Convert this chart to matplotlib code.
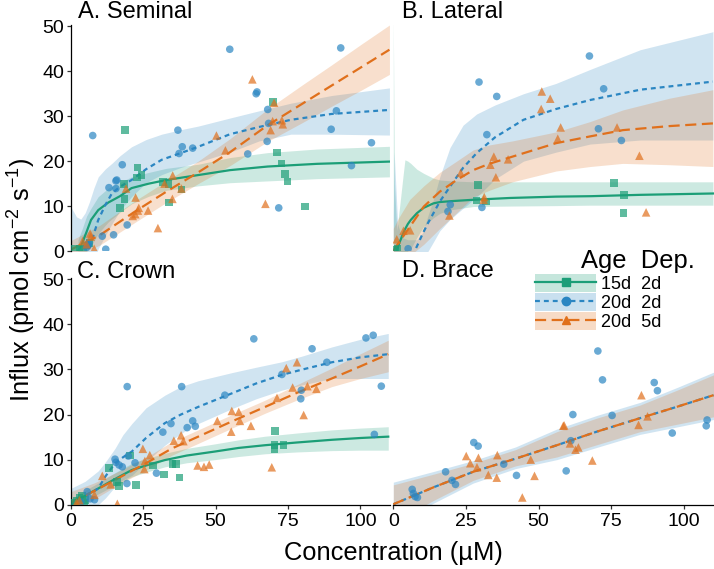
import matplotlib
matplotlib.use("Agg")
import matplotlib.pyplot as plt
from matplotlib.lines import Line2D
from matplotlib.patches import Patch
from matplotlib.legend_handler import HandlerTuple

plt.rcParams['font.family'] = ['Liberation Sans', 'DejaVu Sans']
plt.rcParams['mathtext.fontset'] = 'custom'
plt.rcParams['mathtext.rm'] = 'Liberation Sans'
plt.rcParams['mathtext.it'] = 'Liberation Sans:italic'

# groups: age / depletion
group_labels = ['15d  2d', '20d  2d', '20d  5d']
colors = ['#1b9e77', '#2b86c2', '#e0701c']
markers = ['s', 'o', '^']
styles = ['-', (0, (2.2, 1.8)), (0, (5, 2.5))]
panel_titles = ['A. Seminal', 'B. Lateral', 'C. Crown', 'D. Brace']
y_ticks = [0, 10, 20, 30, 40, 50]
x_ticks = [0, 25, 50, 75, 100]

# ---------------- A. Seminal: measured points ----------------
sem_15d2_x = [18.7, 23.0, 24.5, 22.8, 18.4, 18.6, 17.1, 31.8, 33.8, 38.2, 34.0, 69.9, 71.2, 72.8,
              74.0, 74.8, 80.9, 1.5, 3.0, 4.3, 5.5, 6.5]
sem_15d2_y = [26.9, 18.6, 16.9, 16.4, 14.9, 11.6, 9.6, 15.3, 14.9, 13.7, 10.8, 33.1, 21.9, 19.5,
              17.2, 15.5, 9.9, 0.5, 0.5, 0.6, 1.2, 1.8]
sem_20d2_x = [7.6, 54.9, 93.2, 64.3, 64.0, 68.0, 68.3, 91.7, 89.9, 37.0, 38.5, 37.4, 42.1, 61.1,
              67.8, 103.8, 96.9, 71.8, 17.8, 15.6, 15.9, 13.2, 15.6, 19.5, 14.8, 10.9, 12.1,
              6.0, 6.3, 5.5]
sem_20d2_y = [25.7, 44.9, 45.2, 35.4, 35.0, 31.5, 28.4, 31.2, 27.1, 26.9, 23.2, 21.7, 22.9, 21.6,
              24.4, 24.1, 19.0, 9.6, 19.2, 15.6, 15.8, 14.1, 13.9, 5.8, 3.6, 3.3, 0.4,
              1.3, 1.8, 0.8]
sem_20d5_x = [62.7, 70.2, 69.7, 72.9, 73.2, 69.0, 50.3, 53.4, 35.2, 32.4, 38.2, 35.1, 19.1, 22.4,
              23.5, 23.2, 26.7, 22.3, 21.4, 30.1, 67.2, 6.7, 6.9, 8.1, 4.1, 5.5]
sem_20d5_y = [38.2, 33.0, 28.9, 29.1, 28.2, 26.9, 25.7, 22.4, 16.8, 15.0, 13.9, 11.6, 13.9, 11.9,
              9.6, 9.0, 9.0, 8.2, 7.8, 5.1, 10.5, 3.9, 3.2, 0.5, 2.2, 1.5]

# ---------------- B. Lateral: measured points ----------------
lat_15d2_x = [29.2, 28.6, 31.8, 75.9, 79.4, 79.2, 1.4, 0.5]
lat_15d2_y = [14.7, 11.2, 11.0, 15.1, 12.5, 8.5, 0.5, 0.3]
lat_20d2_x = [67.5, 29.5, 35.6, 72.4, 32.2, 70.6, 78.5, 19.6, 18.8, 30.5, 5.1]
lat_20d2_y = [43.4, 37.6, 34.4, 36.1, 25.9, 27.2, 24.6, 10.3, 8.8, 9.7, 0.5]
lat_20d5_x = [51.1, 54.0, 50.9, 57.6, 77.0, 56.6, 34.6, 39.5, 33.4, 23.2, 35.3, 84.7, 87.0, 31.3,
              31.1, 19.3, 5.8, 3.5, 1.2]
lat_20d5_y = [35.5, 33.9, 31.6, 27.5, 27.5, 25.0, 21.0, 20.4, 19.2, 17.4, 16.4, 21.2, 8.6, 12.0,
              11.4, 7.9, 4.6, 4.5, 2.6]

# ---------------- C. Crown: measured points ----------------
cro_15d2_x = [70.5, 70.3, 70.3, 73.4, 36.3, 35.1, 32.2, 37.6, 22.5, 13.3, 20.5, 28.4, 15.9, 16.7,
              3.0, 4.0, 2.0, 5.0, 1.5, 4.5]
cro_15d2_y = [16.4, 13.2, 12.3, 13.3, 9.0, 9.0, 6.7, 6.0, 4.4, 8.1, 10.9, 8.7, 5.1, 4.2,
              1.5, 2.0, 0.8, 1.0, 0.4, 0.5]
cro_20d2_x = [63.2, 101.9, 104.4, 83.3, 88.4, 72.9, 107.2, 79.6, 79.4, 19.5, 38.3, 53.2, 104.8,
              34.6, 42.1, 43.0, 40.2, 31.8, 15.3, 15.6, 16.7, 17.8, 19.9, 22.2, 29.6, 19.4,
              5.7, 6.7, 8.2, 3.5]
cro_20d2_y = [36.8, 37.0, 37.6, 34.6, 31.6, 28.9, 26.3, 25.4, 23.5, 26.2, 26.2, 24.3, 15.6,
              18.0, 18.6, 17.4, 17.1, 16.1, 10.1, 9.4, 8.8, 8.4, 10.8, 9.3, 7.0, 4.7,
              2.9, 1.3, 1.1, 0.6]
cro_20d5_x = [78.1, 74.4, 76.6, 81.7, 84.8, 80.4, 71.2, 55.6, 58.0, 58.4, 50.6, 55.4, 62.2, 38.1,
              38.9, 35.6, 43.8, 46.0, 47.8, 69.4, 24.9, 27.3, 25.6, 25.4, 10.9, 13.8, 16.1,
              8.2, 3.0, 2.0]
cro_20d5_y = [31.6, 30.3, 26.0, 26.3, 25.7, 19.9, 23.7, 20.8, 20.6, 18.6, 18.6, 16.2, 17.5, 15.4,
              14.1, 14.2, 8.7, 8.4, 8.9, 8.3, 12.4, 11.0, 9.7, 7.9, 6.4, 4.5, 0.2,
              2.2, 1.0, 0.5]

# ---------------- D. Brace: measured points ----------------
bra_20d2_x = [70.4, 72.0, 89.8, 90.9, 61.8, 75.3, 108.0, 107.7, 96.0, 27.7, 29.2, 61.1, 38.0,
              18.0, 20.2, 21.4, 42.4, 59.5, 6.5, 6.9, 7.5, 8.3]
bra_20d2_y = [34.1, 27.7, 27.1, 25.3, 20.0, 19.8, 18.8, 17.5, 15.9, 13.8, 13.0, 14.2, 9.0,
              7.3, 5.4, 4.5, 6.5, 7.5, 3.4, 2.5, 1.8, 1.6]
bra_20d5_x = [85.4, 87.5, 84.4, 58.5, 58.8, 60.8, 62.7, 63.7, 68.5, 25.1, 29.3, 26.5, 28.8, 35.8,
              47.3, 32.7, 35.6, 48.6, 44.4]
bra_20d5_y = [24.3, 19.6, 17.7, 17.5, 17.6, 13.6, 12.2, 12.7, 9.8, 10.8, 10.4, 9.2, 8.3, 11.0,
              10.0, 6.6, 6.0, 6.4, 1.6]

# ---------------- fitted curves and 95% bands ----------------
sem_15d2_fx = [2.5, 4, 5.5, 7, 9.5, 13, 17, 21, 27, 33, 44, 55, 68, 85, 110]
sem_15d2_fy = [0, 1.8, 4.3, 6.9, 9.1, 10.8, 12.2, 14.0, 15.0, 15.8, 16.9, 18.0, 18.8, 19.4, 19.9]
sem_15d2_lo = [0, 0, 0, 1, 3.9, 6.5, 8.6, 10.5, 12.2, 13.5, 14.5, 15.2, 15.6, 16.1, 16.5]
sem_15d2_hi = [2.5, 5, 7.8, 9.5, 12.1, 14.0, 15.3, 16.5, 17.5, 18.4, 19.3, 20.8, 21.9, 22.7, 23.3]

sem_20d2_fx = [0, 2, 3.5, 5, 6.5, 8, 9.5, 12, 14.2, 17, 21, 26, 31.4, 38, 44, 55, 65, 76, 90, 110]
sem_20d2_fy = [-6, -4, -2.5, -1, 0.4, 3.8, 6.9, 10.3, 12.8, 14.3, 15.8, 18.2, 20.3, 21.8, 23.2,
               26.0, 27.6, 29.2, 30.5, 31.4]
sem_20d2_lo = [-5, -5, -5, -5, -4, -2, 0.5, 3.5, 6, 9, 12.1, 15.2, 17, 18.6, 19.8, 22.0, 24.5,
               26.0, 26.0, 25.8]
sem_20d2_hi = [9.9, 7.6, 7.1, 8.5, 11, 14, 16.5, 18.3, 19.5, 21.2, 23.2, 24.8, 26.0, 27.0, 27.8,
               29.6, 31.2, 32.9, 34.6, 36.3]

sem_20d5_fx = [0, 10, 22, 33, 44, 55, 68, 80, 90, 100, 110]
sem_20d5_fy = [0.3, 3.5, 8.7, 13.2, 17.5, 22.0, 28.0, 32.8, 36.8, 40.8, 44.8]
sem_20d5_lo = [-1.7, 1.3, 6.3, 10.8, 15.0, 19.0, 24.4, 28.6, 32.2, 35.7, 39.3]
sem_20d5_hi = [2.3, 5.7, 11.1, 15.6, 20.0, 25.0, 31.6, 37.0, 41.4, 45.9, 50.3]

lat_15d2_fx = [0, 0.4, 1.2, 2.2, 3.4, 4.0, 5, 6, 8.1, 10.4, 13.8, 16.1, 20, 27.5, 40, 56, 68, 85, 110]
lat_15d2_fy = [-3, -1.5, 0.2, 2, 3.9, 4.8, 6, 6.9, 8.4, 9.6, 10.6, 10.9, 11.1, 11.4, 11.8, 12.1,
               12.2, 12.5, 12.8]
lat_15d2_lo = [-3, -3, -2, -1, -1, -0.5, 0, 0.5, 3, 5.4, 7.4, 8.4, 9.2, 9.9, 10.0, 10.1, 10.2,
               10.2, 10.2]
lat_15d2_hi = [52, 15, 4.5, 10, 17, 20.3, 20, 19.5, 18.2, 17.3, 16.2, 15.8, 15.6, 15.4, 15.4,
               15.4, 15.4, 15.4, 15.4]

lat_20d2_fx = [0, 0.3, 1.5, 3, 5, 7, 8.1, 10, 12, 13.8, 16, 19.5, 24, 28.7, 35, 44.8, 56, 67.7, 85, 110]
lat_20d2_fy = [-10, -9, -7, -5, -3, -0.5, 1.0, 3.7, 6.3, 8.4, 11, 14.3, 18.5, 21.8, 25.3, 29.2,
               31.6, 33.6, 35.9, 37.7]
lat_20d2_lo = [-10, -10, -10, -10, -8, -5, -4, -2, 0, 2, 4.5, 7, 9.5, 12, 16, 20, 22, 23.8,
               24.7, 24.7]
lat_20d2_hi = [8, 22, 6, 3, 2.5, 2.5, 2.5, 4, 8, 11.4, 16.5, 23, 28, 30.5, 32.5, 35, 37.3, 40.4,
               44.8, 48.8]

lat_20d5_fx = [0, 1.5, 5.7, 10.5, 16, 21.8, 27.5, 33, 41, 56, 67.7, 79, 95, 110]
lat_20d5_fy = [0, 1.5, 5.4, 9.9, 13.2, 15.8, 18.0, 19.4, 21.0, 24.0, 25.5, 26.9, 27.8, 28.4]
lat_20d5_lo = [-3, -3, -1, 1.5, 5, 8.5, 12.0, 13.5, 15.4, 17.8, 18.8, 19.5, 19.2, 18.8]
lat_20d5_hi = [5, 7, 11.5, 14.5, 17.5, 20, 22.5, 23.6, 24.5, 26.5, 28.8, 31.4, 34, 35.9]

cro_15d2_fx = [0, 5, 9.5, 15, 21.1, 27, 32.5, 40, 49.8, 58, 67.1, 78, 90.1, 100, 109.6]
cro_15d2_fy = [0.2, 2.0, 3.6, 5.6, 7.7, 8.9, 9.9, 10.9, 11.8, 12.6, 13.2, 13.8, 14.4, 14.8, 15.1]
cro_15d2_lo = [0, 0.8, 2.4, 4.2, 6.2, 7.4, 8.4, 9.3, 10.0, 10.7, 11.3, 11.7, 12.0, 12.1, 12.1]
cro_15d2_hi = [1.3, 3.2, 4.8, 7.0, 9.2, 10.4, 11.4, 12.5, 13.5, 14.4, 15.2, 15.9, 16.6, 17.0, 17.3]

cro_20d2_fx = [0, 5, 9.5, 12, 15.3, 18, 21.1, 26, 32.5, 38, 44, 55.6, 64, 72.8, 80, 90.1, 100, 109.6]
cro_20d2_fy = [0, 1.8, 3.6, 6.3, 9.2, 10.5, 11.8, 14.8, 18.1, 20.0, 21.7, 24.7, 26.9, 28.8, 30.0,
               31.6, 32.7, 33.4]
cro_20d2_lo = [-2, -1, 0, 1.5, 4, 5.5, 6.5, 9.5, 13.2, 15.8, 18.0, 21.3, 23.5, 25.4, 26.6, 28.0,
               28.0, 28.0]
cro_20d2_hi = [3.6, 5.2, 7.5, 9.5, 12.5, 15.5, 18.0, 21.5, 24.3, 26.2, 27.5, 29.3, 30.5, 31.7,
               33.0, 35.0, 36.7, 38.0]

cro_20d5_fx = [0, 8, 15.3, 26.8, 35, 44, 55, 67.1, 78, 90.1, 100, 109.6]
cro_20d5_fy = [0.5, 3.0, 5.5, 9.5, 12.5, 15.1, 18.3, 21.7, 24.8, 28.0, 30.7, 33.4]
cro_20d5_lo = [-1, 1.2, 4.0, 8.0, 11.0, 13.6, 16.8, 20.3, 23.2, 26.2, 28.0, 29.5]
cro_20d5_hi = [2.9, 4.8, 7.0, 10.8, 14.0, 16.6, 19.8, 23.2, 26.6, 30.3, 33.5, 36.5]

bra_20d2_fx = [0, 14, 27.5, 42, 56.3, 70, 84.9, 98, 110.2]
bra_20d2_fy = [0.1, 3.9, 7.3, 10.2, 13.2, 16.2, 19.2, 21.8, 24.3]
bra_20d2_lo = [-4.6, 0.4, 4.8, 8.0, 10.0, 12.7, 15.6, 17.3, 18.9]
bra_20d2_hi = [5.0, 7.4, 9.8, 12.8, 16.8, 19.8, 22.7, 26.1, 29.4]

bra_20d5_fx = [0, 14, 27.5, 42, 56.3, 70, 84.9, 98, 110.2]
bra_20d5_fy = [0.1, 3.9, 7.3, 10.2, 13.2, 16.2, 19.2, 21.8, 24.3]
bra_20d5_lo = [-4, 1.0, 5.4, 8.6, 10.6, 13.3, 16.2, 17.9, 19.5]
bra_20d5_hi = [4.4, 6.8, 9.2, 12.2, 16.2, 19.2, 22.1, 25.5, 28.8]

panels = [
    [(sem_15d2_x, sem_15d2_y, sem_15d2_fx, sem_15d2_fy, sem_15d2_lo, sem_15d2_hi),
     (sem_20d2_x, sem_20d2_y, sem_20d2_fx, sem_20d2_fy, sem_20d2_lo, sem_20d2_hi),
     (sem_20d5_x, sem_20d5_y, sem_20d5_fx, sem_20d5_fy, sem_20d5_lo, sem_20d5_hi)],
    [(lat_15d2_x, lat_15d2_y, lat_15d2_fx, lat_15d2_fy, lat_15d2_lo, lat_15d2_hi),
     (lat_20d2_x, lat_20d2_y, lat_20d2_fx, lat_20d2_fy, lat_20d2_lo, lat_20d2_hi),
     (lat_20d5_x, lat_20d5_y, lat_20d5_fx, lat_20d5_fy, lat_20d5_lo, lat_20d5_hi)],
    [(cro_15d2_x, cro_15d2_y, cro_15d2_fx, cro_15d2_fy, cro_15d2_lo, cro_15d2_hi),
     (cro_20d2_x, cro_20d2_y, cro_20d2_fx, cro_20d2_fy, cro_20d2_lo, cro_20d2_hi),
     (cro_20d5_x, cro_20d5_y, cro_20d5_fx, cro_20d5_fy, cro_20d5_lo, cro_20d5_hi)],
    [None,
     (bra_20d2_x, bra_20d2_y, bra_20d2_fx, bra_20d2_fy, bra_20d2_lo, bra_20d2_hi),
     (bra_20d5_x, bra_20d5_y, bra_20d5_fx, bra_20d5_fy, bra_20d5_lo, bra_20d5_hi)],
]

W, H = 714, 569
fig = plt.figure(figsize=(W / 100, H / 100), dpi=100)

# axes boxes in pixels: left, top, right, bottom
boxes = [(70.7, 25, 390, 251), (393.3, 25, 713.5, 251),
         (70.7, 278, 390, 504.7), (393.3, 278, 713.5, 504.7)]
title_pos = [(77.7, 18.3), (401.7, 18.3), (77.0, 278.3), (401.7, 276.7)]

axes = []
for i, (l, t, r, b) in enumerate(boxes):
    ax = fig.add_axes([l / W, 1 - b / H, (r - l) / W, (b - t) / H])
    ax.set_xlim(0, 110.2)
    ax.set_ylim(0, 50.3)
    for s in ax.spines.values():
        s.set_visible(False)
    ax.tick_params(length=3, width=0.9, labelsize=14, pad=1.5, color='#333333')
    if i in (0, 2):
        ax.spines['left'].set_visible(True)
        ax.spines['left'].set_linewidth(0.9)
        ax.set_yticks(y_ticks)
    else:
        ax.set_yticks([])
    if i in (2, 3):
        ax.spines['bottom'].set_visible(True)
        ax.spines['bottom'].set_linewidth(0.9)
        ax.set_xticks(x_ticks)
        ax.tick_params(axis='x', pad=3)
    else:
        ax.set_xticks([])

    for g, grp in enumerate(panels[i]):
        if grp is None:
            continue
        px, py, fx, fy, lo, hi = grp
        ax.fill_between(fx, lo, hi, color=colors[g], alpha=0.22, lw=0, zorder=1)
        ax.plot(fx, fy, color=colors[g], ls=styles[g], lw=1.6, zorder=2)
        ax.scatter(px, py, s=30 if markers[g] != '^' else 38, marker=markers[g], color=colors[g],
                   alpha=0.7, edgecolors='none', zorder=3)
    tx, ty = title_pos[i]
    fig.text(tx / W, 1 - ty / H, panel_titles[i], fontsize=17, va='baseline', ha='left')
    axes.append(ax)

fig.text(393 / W, 1 - 560 / H, 'Concentration (µM)', fontsize=18.4, ha='center', va='baseline')
fig.text(22 / W, 1 - 280 / H, 'Influx (pmol cm$^{-2}$ s$^{-1}$)', fontsize=18.4,
         rotation=90, ha='center', va='center')

# legend
handles = []
for g in range(3):
    band = Patch(facecolor=colors[g], alpha=0.25, edgecolor='none')
    line = Line2D([], [], color=colors[g], ls=styles[g], lw=1.6, marker=markers[g], ms=6)
    handles.append((band, line))
leg = axes[3].legend(handles, group_labels, handler_map={tuple: HandlerTuple(ndivide=1)},
                     loc='upper left', bbox_to_anchor=(535 / W, 1 - 274 / H),
                     bbox_transform=fig.transFigure, frameon=False, fontsize=13,
                     handlelength=3.4, handleheight=1.15, labelspacing=0.0,
                     handletextpad=0.25, borderpad=0, borderaxespad=0)
fig.text(580.7 / W, 1 - 268.3 / H, 'Age  Dep.', fontsize=18.4, ha='left', va='baseline')

fig.savefig('out.png', dpi=100)
